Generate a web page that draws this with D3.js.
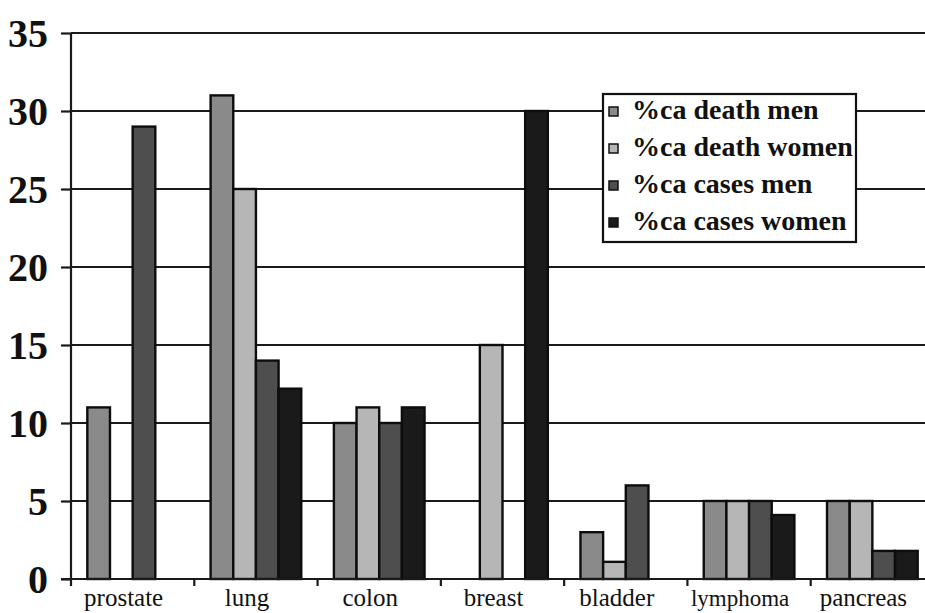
<!DOCTYPE html>
<html><head><meta charset="utf-8">
<script src="https://cdn.jsdelivr.net/npm/d3@7"></script>
<style>html,body{margin:0;padding:0;background:#fff;} svg{display:block;}
.serif{font-family:"Liberation Serif","Tinos","Times New Roman","DejaVu Serif","Noto Serif",serif;}
</style>
</head><body>
<svg id="chart" width="925" height="613"></svg>
<script>
const categories = ["prostate","lung","colon","breast","bladder","lymphoma","pancreas"];
const series = ["%ca death men","%ca death women","%ca cases men","%ca cases women"];
const deathMen   = [11, 31, 10, 0, 3, 5, 5];
const deathWomen = [0, 25, 11, 15, 1.1, 5, 5];
const casesMen   = [29, 14, 10, 0, 6, 5, 1.8];
const casesWomen = [0, 12.2, 11, 30, 0, 4.1, 1.8];
const yTicks = [0, 5, 10, 15, 20, 25, 30, 35];
const colors = ["#8a8a8a", "#b6b6b6", "#4e4e4e", "#1a1a1a"];

const values = [deathMen, deathWomen, casesMen, casesWomen];
const svg = d3.select("#chart");

const x0 = d3.scaleBand().domain(categories).range([71, 934]).paddingInner(0).paddingOuter(0);
const x1 = d3.scaleBand().domain(series).range([0, x0.bandwidth()]).paddingInner(0).paddingOuter(0.72);
const y = d3.scaleLinear().domain([0, 35]).range([579, 33]);

// gridlines
svg.append("g").selectAll("line").data(yTicks.filter(d => d > 0)).join("line")
  .attr("x1", 71).attr("x2", 925)
  .attr("y1", d => y(d)).attr("y2", d => y(d))
  .attr("stroke", "#1a1a1a").attr("stroke-width", 2.2);

// bars
const rows = [];
series.forEach((s, si) => categories.forEach((c, ci) => {
  if (values[si][ci] > 0) rows.push({s, c, v: values[si][ci], si});
}));
svg.append("g").selectAll("rect").data(rows).join("rect")
  .attr("x", d => x0(d.c) + x1(d.s))
  .attr("y", d => y(d.v))
  .attr("width", x1.bandwidth())
  .attr("height", d => y(0) - y(d.v))
  .attr("fill", d => colors[d.si])
  .attr("stroke", "#0d0d0d").attr("stroke-width", 2.4);

// y axis
const yAxis = svg.append("g").attr("transform", "translate(71,0)")
  .call(d3.axisLeft(y).tickValues(yTicks).tickSize(10).tickFormat(d3.format("d")));
yAxis.attr("font-family", null);
yAxis.select(".domain").attr("d", "M0,33V586").attr("stroke", "#1a1a1a").attr("stroke-width", 2.2);
yAxis.selectAll(".tick line").attr("stroke", "#1a1a1a").attr("stroke-width", 2.2);
yAxis.selectAll(".tick text").attr("class", "serif").attr("x", -23).attr("dy", "0.33em")
  .style("font-weight", "bold").style("font-size", "40px").attr("fill", "#111");

// x axis
const xAxis = svg.append("g").attr("transform", "translate(0,579)")
  .call(d3.axisBottom(x0).tickSize(0));
xAxis.attr("font-family", null);
xAxis.select(".domain").attr("d", "M61,0H925").attr("stroke", "#1a1a1a").attr("stroke-width", 2.2);
xAxis.selectAll(".tick text").attr("class", "serif").attr("y", 27).attr("dy", null).attr("dx", -9)
  .style("font-size", "25px").attr("fill", "#111");
xAxis.selectAll(".tick").filter(d => d === "lymphoma").select("text").style("font-size", "23px");
// boundary tick marks
svg.append("g").selectAll("line").data(categories.slice(1)).join("line")
  .attr("x1", d => x0(d)).attr("x2", d => x0(d))
  .attr("y1", 579).attr("y2", 586)
  .attr("stroke", "#1a1a1a").attr("stroke-width", 2.2);

// legend
const lg = svg.append("g");
lg.append("rect").attr("x", 603).attr("y", 94).attr("width", 253).attr("height", 148)
  .attr("fill", "#fff").attr("stroke", "#111").attr("stroke-width", 2.2);
const items = lg.selectAll("g.item").data(series).join("g").attr("class", "item")
  .attr("transform", (d, i) => `translate(0,${112 + i * 37})`);
items.append("rect").attr("x", 609).attr("y", -5).attr("width", 9).attr("height", 9)
  .attr("fill", (d, i) => colors[i]).attr("stroke", "#111").attr("stroke-width", 1.5);
items.append("text").attr("class", "serif").attr("x", 632).attr("y", 7).text(d => d)
  .style("font-weight", "bold").style("font-size", "28px").attr("fill", "#111");
</script>
</body></html>
